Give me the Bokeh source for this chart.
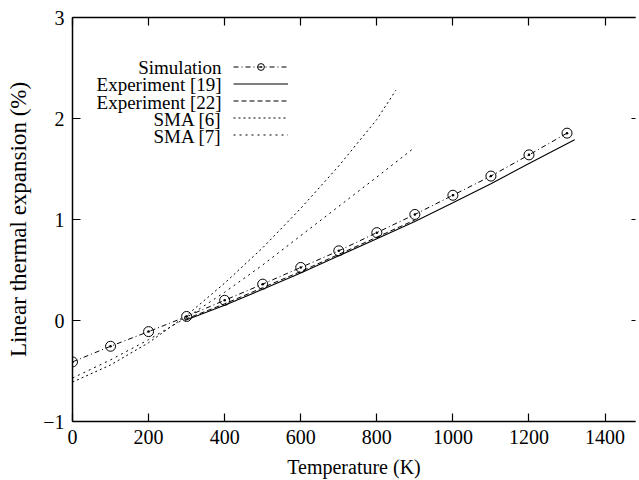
from bokeh.plotting import figure
from bokeh.models import (Range1d, LinearAxis, FixedTicker, Legend, LegendItem, Label,
                          CustomLabelingPolicy)
from bokeh.embed import file_html
from bokeh.resources import INLINE

# ---- data: linear thermal expansion (%) versus temperature (K) ----
temp_sim = [0, 100, 200, 300, 400, 500, 600, 700, 800, 900, 1000, 1100, 1200, 1300]
expansion_sim = [-0.41, -0.255, -0.11, 0.04, 0.20, 0.36, 0.525, 0.69, 0.87, 1.05, 1.24, 1.43, 1.64, 1.855]

temp_exp19 = [295, 400, 500, 600, 700, 800, 900, 1000, 1100, 1200, 1320]
expansion_exp19 = [0.0, 0.15, 0.31, 0.47, 0.64, 0.81, 0.98, 1.165, 1.355, 1.555, 1.79]

temp_exp22 = [295, 400, 500, 600, 700, 800, 900]
expansion_exp22 = [0.01, 0.165, 0.325, 0.485, 0.655, 0.825, 0.995]

temp_sma6 = [0, 100, 200, 300, 400, 500, 600, 700, 800, 850]
expansion_sma6 = [-0.61, -0.44, -0.22, 0.05, 0.37, 0.72, 1.11, 1.53, 1.99, 2.28]

temp_sma7 = [0, 100, 200, 300, 400, 500, 600, 700, 800, 895]
expansion_sma7 = [-0.57, -0.39, -0.19, 0.03, 0.28, 0.55, 0.84, 1.13, 1.42, 1.70]

series_names = ["Simulation", "Experiment [19]", "Experiment [22]", "SMA [6]", "SMA [7]"]
x_ticks = [0, 200, 400, 600, 800, 1000, 1200, 1400]
y_ticks = [-1, 0, 1, 2, 3]

FONT = "Liberation Serif"

p = figure(width=639, height=480, output_backend="svg", toolbar_location=None,
           x_range=Range1d(0, 1480), y_range=Range1d(-1, 3),
           min_border_left=72, min_border_right=0, min_border_top=17, min_border_bottom=58)
p.grid.visible = False
p.outline_line_color = None
p.background_fill_color = "white"
p.border_fill_color = "white"

# ticks only (no labels) on the mirrored top / right axes
no_labels = CustomLabelingPolicy(code="""
    const r = indices.clone()
    for (const i of Array.from(indices)) { r.unset(i) }
    return r
""")

# ---- axes ----
def style_axis(ax, ticks):
    ax.ticker = FixedTicker(ticks=ticks)
    ax.major_tick_in = 8
    ax.major_tick_out = 0
    ax.minor_tick_line_color = None
    ax.axis_line_color = "black"
    ax.axis_line_width = 1.5
    ax.major_tick_line_width = 1.2
    ax.major_label_text_font = FONT
    ax.major_label_text_font_size = "20px"
    ax.major_label_text_color = "black"
    ax.axis_label_text_font = FONT
    ax.axis_label_text_font_style = "normal"
    ax.axis_label_text_color = "black"

xa = p.xaxis[0]
style_axis(xa, x_ticks)
xa.axis_label = "Temperature (K)"
xa.axis_label_text_font_size = "20px"
xa.major_label_standoff = 8
xa.axis_label_standoff = 9

ya = p.yaxis[0]
style_axis(ya, y_ticks)
ya.axis_label = "Linear thermal expansion (%)"
ya.axis_label_text_font_size = "23px"
ya.major_label_standoff = 8
ya.axis_label_standoff = 9
ya.major_label_overrides = {-1: "\u22121"}

top = LinearAxis()
style_axis(top, x_ticks)
top.major_label_text_font_size = "1px"
top.major_label_standoff = 0
top.major_label_policy = no_labels
p.add_layout(top, "above")

right = LinearAxis()
style_axis(right, y_ticks)
right.major_tick_in = 4
right.axis_line_color = None
right.major_label_text_font_size = "1px"
right.major_label_standoff = 0
right.major_label_policy = no_labels
p.add_layout(right, "right")

# ---- curves ----
r_sim_line = p.line(temp_sim, expansion_sim, line_color="black", line_width=1, line_dash="5 3 1 3")
r_sim_pts = p.scatter(temp_sim, expansion_sim, marker="circle_dot", size=10,
                      line_color="black", fill_color=None, line_width=1)
r_exp19 = p.line(temp_exp19, expansion_exp19, line_color="black", line_width=1.1)
r_exp22 = p.line(temp_exp22, expansion_exp22, line_color="black", line_width=1, line_dash="5 3")
r_sma6 = p.line(temp_sma6, expansion_sma6, line_color="black", line_width=1, line_dash="2 3")
r_sma7 = p.line(temp_sma7, expansion_sma7, line_color="black", line_width=1, line_dash="2 4")

# ---- key: sample glyphs on the right, right-aligned names on the left ----
legend = Legend(items=[
    LegendItem(label="", renderers=[r_sim_line, r_sim_pts]),
    LegendItem(label="", renderers=[r_exp19]),
    LegendItem(label="", renderers=[r_exp22]),
    LegendItem(label="", renderers=[r_sma6]),
    LegendItem(label="", renderers=[r_sma7]),
], location=(161, 278), orientation="vertical", glyph_width=55, glyph_height=17,
    spacing=0, padding=0, margin=0, label_standoff=0, label_width=0,
    label_text_font_size="1px", border_line_color=None, background_fill_alpha=0)
p.add_layout(legend, "center")

row_y = [2.504, 2.333, 2.162, 1.991, 1.820]
for name, yy in zip(series_names, row_y):
    p.add_layout(Label(x=392, y=yy, text=name, text_align="right", text_baseline="middle",
                       text_font=FONT, text_font_size="19px", text_color="black"))

open("out.html", "w").write(file_html(p, INLINE))
